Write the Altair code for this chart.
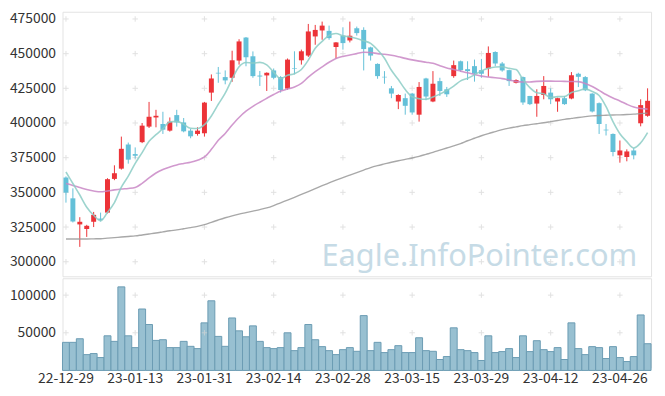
import altair as alt
import pandas as pd

dates = [
    "22-12-29",
    "23-01-02", "23-01-03", "23-01-04", "23-01-05", "23-01-06",
    "23-01-09", "23-01-10", "23-01-11", "23-01-12", "23-01-13",
    "23-01-16", "23-01-17", "23-01-18", "23-01-19", "23-01-20",
    "23-01-25", "23-01-26", "23-01-27", "23-01-30", "23-01-31",
    "23-02-01", "23-02-02", "23-02-03",
    "23-02-06", "23-02-07", "23-02-08", "23-02-09", "23-02-10",
    "23-02-13", "23-02-14", "23-02-15", "23-02-16", "23-02-17",
    "23-02-20", "23-02-21", "23-02-22", "23-02-23", "23-02-24",
    "23-02-27", "23-02-28",
    "23-03-02", "23-03-03",
    "23-03-06", "23-03-07", "23-03-08", "23-03-09", "23-03-10",
    "23-03-13", "23-03-14", "23-03-15", "23-03-16", "23-03-17",
    "23-03-20", "23-03-21", "23-03-22", "23-03-23", "23-03-24",
    "23-03-27", "23-03-28", "23-03-29", "23-03-30", "23-03-31",
    "23-04-03", "23-04-04", "23-04-05", "23-04-06", "23-04-07",
    "23-04-10", "23-04-11", "23-04-12", "23-04-13", "23-04-14",
    "23-04-17", "23-04-18", "23-04-19", "23-04-20", "23-04-21",
    "23-04-24", "23-04-25", "23-04-26", "23-04-27", "23-04-28",
    "23-05-02", "23-05-03",
]

opens = [360700, 345700, 326900, 323600, 328800, 331100, 335400, 359700, 367100, 384500,
         377600, 386200, 397400, 404000, 399300, 394500, 405700, 400400, 394500, 392100,
         392600, 421900, 436200, 433100, 432600, 445000, 461600, 448100, 434200, 434300,
         437900, 433100, 424800, 439500, 445200, 448600, 462400, 466700, 466400, 454800,
         462900, 459500, 468300, 467100, 454500, 442600, 433300, 425000, 415500, 417900,
         421200, 406000, 432100, 415500, 430200, 424300, 433800, 444500, 438800, 441000,
         438100, 439300, 451200, 442900, 438100, 429000, 433100, 419500, 414000, 420200,
         421900, 415500, 417900, 417600, 435500, 433100, 421200, 414300, 395200, 392100,
         376700, 375500, 380200, 399800, 405200]
highs = [361500, 352900, 332100, 326600, 335900, 335400, 360200, 369500, 390200, 385900,
         382400, 400000, 415200, 409500, 408100, 404000, 409500, 403600, 395700, 396900,
         415200, 435000, 440400, 437900, 452100, 460400, 462000, 451600, 437500, 436500,
         439300, 433800, 446500, 451700, 452900, 471400, 470700, 473100, 470200, 458300,
         469000, 473100, 469500, 469000, 455000, 443000, 437400, 426700, 420700, 421200,
         421700, 429500, 432600, 437400, 432600, 426000, 445000, 445000, 444500, 445700,
         446200, 455200, 451700, 444000, 438500, 431500, 433500, 419500, 424300, 433800,
         425000, 418300, 419500, 436700, 436200, 433800, 421500, 414800, 399300, 392500,
         387400, 381000, 382100, 417100, 425000]
lows = [342600, 328300, 310700, 317900, 325000, 329000, 334800, 358800, 366400, 370700,
        374300, 385500, 396400, 396900, 392100, 393800, 397400, 393300, 389000, 390900,
        390200, 415900, 429000, 427900, 429700, 442100, 440900, 432600, 426700, 423100,
        431500, 421900, 424000, 435000, 442100, 447600, 456400, 460000, 460000, 446400,
        452900, 458100, 463000, 437900, 445000, 431900, 428300, 417900, 410000, 406000,
        406000, 401000, 416400, 415000, 419500, 418800, 432600, 437000, 431000, 429800,
        432600, 433300, 441000, 437000, 426700, 428500, 413100, 412900, 404500, 417100,
        413600, 408100, 413100, 417100, 425900, 423000, 407600, 392100, 391000, 376000,
        371400, 372400, 373800, 397600, 404500]
closes = [349800, 329000, 328800, 325900, 333800, 330200, 359500, 363800, 381400, 373600,
          376400, 398100, 404500, 405200, 395200, 400900, 400400, 394000, 390400, 394500,
          414700, 432100, 435700, 430700, 445200, 458800, 447400, 433800, 433500, 436200,
          432600, 423800, 445700, 439100, 451700, 466000, 467100, 470200, 461200, 458100,
          457600, 462900, 464800, 453300, 448600, 433800, 432900, 421200, 420200, 412400,
          407600, 426000, 419100, 428300, 423100, 420700, 441700, 438100, 437400, 435500,
          435500, 450500, 442900, 437900, 430200, 431000, 414800, 413600, 419500, 426700,
          417100, 417900, 413600, 434500, 433300, 423600, 408300, 399300, 394700, 379100,
          380200, 379500, 376700, 412900, 416000]
volumes = [37300, 37300, 42100, 21000, 22400, 17100, 46000, 38600, 111000, 46000,
           30300, 81600, 61000, 39900, 40800, 30300, 30300, 38600, 32000, 29000,
           63200, 92500, 45200, 32000, 69700, 52600, 44700, 59200, 38600, 30300,
           29000, 30300, 50000, 26300, 30300, 61000, 40800, 31600, 26300, 21000,
           27600, 30300, 25400, 72800, 26300, 37300, 23700, 27600, 32900, 23700,
           23700, 43400, 26300, 25400, 14500, 18400, 56600, 27600, 26300, 23700,
           13200, 46000, 23700, 25000, 29000, 17100, 46000, 25000, 39500, 27600,
           25000, 30300, 14500, 63200, 29000, 21000, 31600, 30300, 15800, 31600,
           17100, 11800, 18400, 73700, 35500]
ma5 = [364700, 356400, 348100, 339300, 333500, 329500, 335600, 342600, 353700, 361700,
       370900, 378700, 386800, 391600, 395900, 400800, 401200, 399100, 396200, 396000,
       398800, 405100, 413500, 421500, 431700, 440500, 443600, 443200, 443700, 441900,
       436700, 432000, 434400, 435500, 438600, 445300, 453900, 458800, 463200, 464500,
       462800, 462000, 460900, 459300, 457400, 452700, 446700, 438000, 431300, 424100,
       418900, 417500, 417100, 418700, 420800, 423400, 426600, 430400, 432200, 434700,
       437600, 439400, 440400, 440500, 439400, 438500, 431400, 425500, 421800, 421100,
       418300, 419000, 419000, 422000, 423300, 424600, 422700, 419800, 411800, 401000,
       392300, 386600, 382000, 385700, 393100]
ma20 = [356400, 355000, 353500, 352000, 351000, 350400, 351000, 351800, 352400, 352800,
        353500, 356500, 360500, 364000, 366500, 368300, 369800, 370800, 371700, 373200,
        375500, 381000, 387500, 392500, 398500, 404000, 408500, 412000, 415000, 417800,
        420500, 423000, 424500, 426000, 428500, 433000, 437000, 440500, 443800, 446500,
        448000, 449000, 450000, 451000, 450800, 450000, 449500, 448800, 447800, 446600,
        445500, 444600, 443800, 443000, 441300, 439700, 438600, 437400, 436200, 434900,
        433800, 433200, 432600, 432000, 431000, 430000, 429500, 429600, 430000, 430200,
        430200, 430100, 430000, 429900, 429800, 428500, 426300, 423500, 420500, 418000,
        415900, 413500, 411500, 410500, 410000]
ma60 = [316400, 316400, 316400, 316400, 316500, 316600, 317000, 317400, 317800, 318200,
        318600, 319300, 320000, 320700, 321500, 322300, 323000, 323800, 324600, 325500,
        326700, 328400, 330100, 331700, 333100, 334300, 335400, 336500, 337600, 338800,
        340500, 342500, 344400, 346400, 348500, 350600, 352700, 354800, 356800, 358800,
        360700, 362500, 364300, 366100, 367900, 369300, 370500, 371700, 372800, 373800,
        374800, 376000, 377400, 378800, 380400, 382000, 383500, 385200, 387200, 389000,
        390800, 392400, 393800, 395200, 396300, 397200, 398100, 398800, 399500, 400200,
        401000, 401800, 402600, 403300, 404000, 404600, 405100, 405400, 405600, 405800,
        405900, 406100, 406400, 406800, 407100]

price_ticks = [300000, 325000, 350000, 375000, 400000, 425000, 450000, 475000]
volume_ticks = [50000, 100000]
date_ticks = [dates[i] for i in range(0, len(dates), 10)]
watermark = "Eagle.InfoPointer.com"

UP, DOWN = "#ec3338", "#64c0d8"
FONT = "Noto Sans CJK KR"
FS = 14
W = 594
PH, VH = 267, 90

df = pd.DataFrame({
    "date": dates, "open": opens, "high": highs, "low": lows, "close": closes,
    "volume": volumes, "ma5": ma5, "ma20": ma20, "ma60": ma60,
})
df["dir"] = ["up" if c >= o else "down" for o, c in zip(opens, closes)]

xscale = alt.Scale(domain=dates, paddingInner=0, paddingOuter=0)
color = alt.Color("dir:N", scale=alt.Scale(domain=["up", "down"], range=[UP, DOWN]), legend=None)

yprice = alt.Scale(domain=[289500, 480200], nice=False, zero=False)
price_axis = alt.Axis(values=price_ticks, format="d", grid=False, ticks=False, domain=False,
                      labelOverlap=False, labelPadding=7, labelFont=FONT, labelFontSize=FS,
                      labelColor="#333", title=None)


def py(field):
    return alt.Y(f"{field}:Q", scale=yprice, axis=price_axis)


base = alt.Chart(df)

xb = alt.X("date:N", scale=xscale, axis=None)
xc = alt.X("date:N", scale=xscale, axis=None, bandPosition=0.5)

grid_price = pd.DataFrame([(d, v) for d in date_ticks for v in price_ticks], columns=["date", "v"])
cross_shape = "M-1,0L1,0M0,-1L0,1"
grid_p = alt.Chart(grid_price).mark_point(shape=cross_shape, size=30, filled=False,
                                          stroke="#d6d6d6", strokeWidth=1).encode(
    x=xc, y=py("v"))

wm = alt.Chart(pd.DataFrame({"t": [watermark]})).mark_text(
    align="right", baseline="alphabetic", fontSize=31, font="Noto Sans", color="#c6dbe6"
).encode(x=alt.value(580), y=alt.value(257), text="t:N")

wick = base.mark_rule(strokeWidth=1).encode(x=xc, y=py("low"), y2="high:Q", color=color)
body = base.mark_bar(width=5).encode(x=xb, y=py("open"), y2="close:Q", color=color)


def ma_line(field, col, w):
    return base.mark_line(color=col, strokeWidth=w, opacity=0.85, interpolate="monotone").encode(
        x=xc, y=py(field))


price = alt.layer(
    grid_p, wm, wick, body,
    ma_line("ma60", "#999999", 1.4),
    ma_line("ma20", "#c987c5", 1.6),
    ma_line("ma5", "#8ccdc6", 1.6),
).properties(width=W, height=PH)

yvol = alt.Scale(domain=[3950, 122400], nice=False, zero=False)
vol_axis = alt.Axis(values=volume_ticks, format="d", grid=False, ticks=False, domain=False,
                    labelOverlap=False, labelPadding=7, labelFont=FONT, labelFontSize=FS,
                    labelColor="#333", title=None)
x_axis = alt.Axis(values=date_ticks, labelAngle=0, ticks=False, domain=False, labelPadding=4,
                  labelOverlap=False, labelFont=FONT, labelFontSize=FS, labelColor="#333",
                  title=None)

grid_vol = pd.DataFrame([(d, v) for d in date_ticks for v in volume_ticks], columns=["date", "v"])
grid_v = alt.Chart(grid_vol).mark_point(shape=cross_shape, size=30, filled=False,
                                        stroke="#d6d6d6", strokeWidth=1).encode(
    x=alt.X("date:N", scale=xscale, axis=x_axis, bandPosition=0.5),
    y=alt.Y("v:Q", scale=yvol, axis=vol_axis))

vbars = base.mark_bar(fill="#98c0d1", stroke="#6b9cb3", strokeWidth=1).encode(
    x=alt.X("date:N", scale=xscale, axis=x_axis),
    y=alt.Y("volume:Q", scale=yvol, axis=vol_axis),
    y2=alt.value(VH))

volume = alt.layer(vbars, grid_v).properties(width=W, height=VH)

chart = alt.vconcat(price, volume, spacing=0).properties(
    padding={"left": 0, "top": 1, "right": 5, "bottom": 5}
).configure_view(stroke="#e3e3e3").configure_axis(title=None)

chart.save("out.html", embed_options={"renderer": "svg", "actions": False})
